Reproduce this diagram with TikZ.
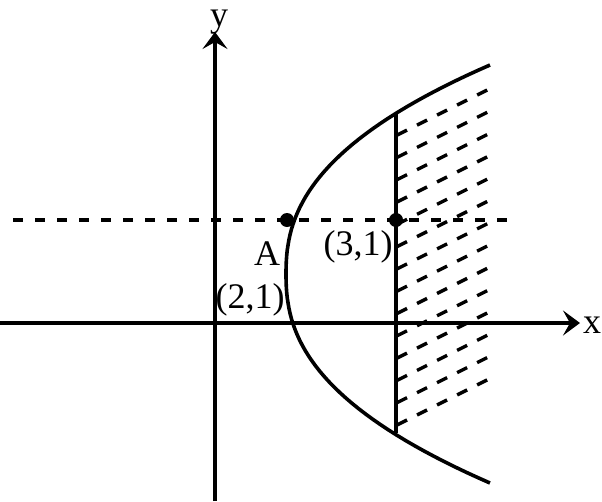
\documentclass[tikz,border=0pt]{standalone}
\usepackage{fontspec}
\setmainfont{Liberation Serif}
\usetikzlibrary{arrows.meta}

\begin{document}
\begin{tikzpicture}[x=1pt,y=-1pt,line width=3.6pt,
  axis/.style={-{Stealth[length=17pt,width=25pt,inset=7pt]}},
  hatch/.style={line width=3.4pt,dash pattern=on 11.2pt off 11.2pt},
  lbl/.style={font=\fontsize{36}{42}\selectfont,inner sep=0pt,anchor=base}]
  \useasboundingbox (0,0) rectangle (602,501);
  % axes
  \coordinate (xl) at (0,323);
  \coordinate (xr) at (580,323);
  \coordinate (yb) at (215,501);
  \coordinate (yt) at (215,32);
  \draw[axis] (xl) -- (xr);
  \draw[axis] (yb) -- (yt);
  \node[lbl] (xlab) at (592,333) {x};
  \node[lbl] (ylab) at (219,26) {y};
  % the line y=1
  \coordinate (ll) at (13,220);
  \coordinate (lr) at (507,220);
  \draw[dash pattern=on 10pt off 12pt] (ll) -- (lr);
  % parabola
  \draw plot[domain=-209:209,samples=80,variable=\t] ({286+204*(abs(\t)/209)^2.35},{274+\t});
  % shaded part
  \begin{scope}
    \clip plot[domain=-209:209,samples=80,variable=\t] ({286+204*(abs(\t)/209)^2.35},{274+\t}) -- cycle;
    \foreach \k in {0,...,13}
      \draw[hatch] (397,{425-22.3*\k}) -- ++(93,-46.5);
  \end{scope}
  \coordinate (vt) at (396,113);
  \coordinate (vb) at (396,433);
  \draw (vt) -- (vb);
  % points
  \coordinate (A) at (287,220);
  \coordinate (B) at (396,220);
  \fill (A) circle (7pt);
  \fill (B) circle (7pt);
  \node[lbl] (Alab) at (267,265) {A};
  \node[lbl] (Acoord) at (250,308) {(2,1)};
  \node[lbl] (Bcoord) at (358,255) {(3,1)};
\end{tikzpicture}
\end{document}
